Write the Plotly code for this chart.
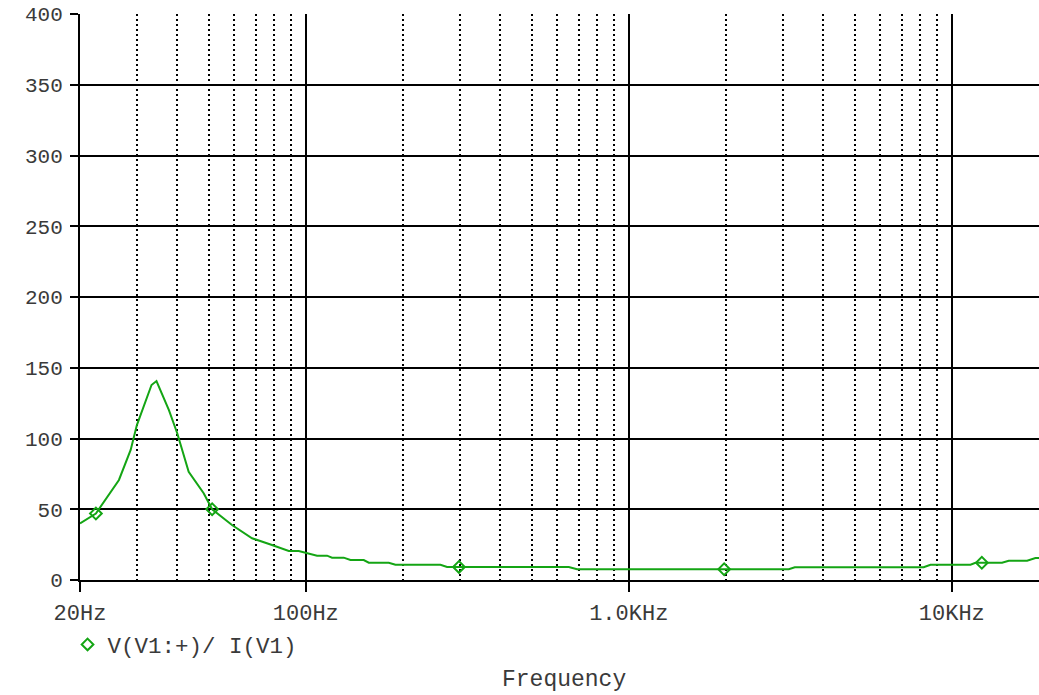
import math
import plotly.graph_objects as go

# ---- data ----
freq_hz = [20, 22.4, 26.4, 28.7, 30.0, 33.3, 34.5, 37.7, 40.0, 43.4, 48.3, 51.3, 59.1,
           68.2, 78.6, 88.6, 95.1, 100.9, 108.4, 116.4, 120.6, 131.1, 137.5, 151.2,
           156.7, 180.7, 189.5, 261.2, 273.8, 652, 691.8, 3130, 3266, 8185, 8590,
           11430, 11840, 14310, 15010, 17110, 18160, 18700]
impedance = [40, 47, 70.7, 91.9, 109.5, 137.8, 140.6, 120, 103.7, 76.5, 61.3, 50, 38.9,
             29.5, 24.7, 20.5, 20.5, 18.8, 17.2, 17.2, 15.8, 15.8, 14.1, 14.1,
             12.2, 12.2, 10.8, 10.8, 9.2, 9.2, 7.6, 7.6, 9.0, 9.0, 10.8,
             10.8, 12.2, 12.2, 13.6, 13.6, 15.5, 15.5]

marker_freq = [22.4, 51.3, 298, 1974, 12390]
marker_vals = [47, 50, 9.2, 7.6, 12.2]

series_name = "V(V1:+)/ I(V1)"
x_tick_vals = [20, 100, 1000, 10000]
x_tick_text = ["20Hz", "100Hz", "1.0KHz", "10KHz"]
x_minor_vals = [30, 40, 50, 60, 70, 80, 90,
                200, 300, 400, 500, 600, 700, 800, 900,
                2000, 3000, 4000, 5000, 6000, 7000, 8000, 9000]
y_tick_vals = [0, 50, 100, 150, 200, 250, 300, 350, 400]
x_title = "Frequency"

GREEN = "#14a514"
FONT = "Liberation Mono"
TXT = "#3a3a3a"

fig = go.Figure()
fig.add_trace(go.Scatter(x=freq_hz, y=impedance, mode="lines",
                         line=dict(color=GREEN, width=2), showlegend=False,
                         hoverinfo="skip"))
fig.add_trace(go.Scatter(x=marker_freq, y=marker_vals, mode="markers",
                         marker=dict(symbol="diamond-open", size=9, color=GREEN,
                                     line=dict(width=2, color=GREEN)),
                         name=series_name, showlegend=True))

fig.update_layout(
    width=1039, height=695,
    margin=dict(l=80, r=0, t=14, b=115, autoexpand=False),
    paper_bgcolor="white", plot_bgcolor="white",
    font=dict(family=FONT, size=22, color=TXT),
    legend=dict(x=-0.013, y=-0.1145, xanchor="left", yanchor="middle",
                xref="paper", yref="paper", font=dict(family=FONT, size=22.5, color=TXT),
                bgcolor="rgba(0,0,0,0)", itemwidth=30),
    annotations=[dict(text=x_title, x=0.5047, y=-0.1767, xref="paper", yref="paper",
                      xanchor="center", yanchor="middle", showarrow=False,
                      font=dict(family=FONT, size=23, color=TXT))],
)

fig.update_xaxes(
    type="log",
    range=[math.log10(20), math.log10(20) + 959 / 323],
    tickmode="array", tickvals=x_tick_vals, ticktext=x_tick_text,
    ticks="outside", ticklen=10, tickwidth=2, tickcolor="black",
    ticklabelstandoff=2,
    tickfont=dict(family=FONT, size=22, color=TXT),
    showgrid=True, gridcolor="black", gridwidth=2,
    showline=True, linecolor="black", linewidth=2,
    zeroline=False,
    minor=dict(tickmode="array", tickvals=x_minor_vals, ticks="",
               showgrid=True, gridcolor="black", gridwidth=2, griddash="2px,3px"),
)
fig.update_yaxes(
    range=[0, 400],
    tickmode="array", tickvals=y_tick_vals,
    ticks="outside", ticklen=8, tickwidth=2, tickcolor="black",
    ticklabelstandoff=3,
    tickfont=dict(family=FONT, size=21, color=TXT),
    showgrid=True, gridcolor="black", gridwidth=2,
    showline=True, linecolor="black", linewidth=2,
    zeroline=False,
)

fig.write_html(
    "out.html",
    config={"displayModeBar": False},
    post_script="document.body.style.margin='0';document.body.style.overflow='hidden';",
)
